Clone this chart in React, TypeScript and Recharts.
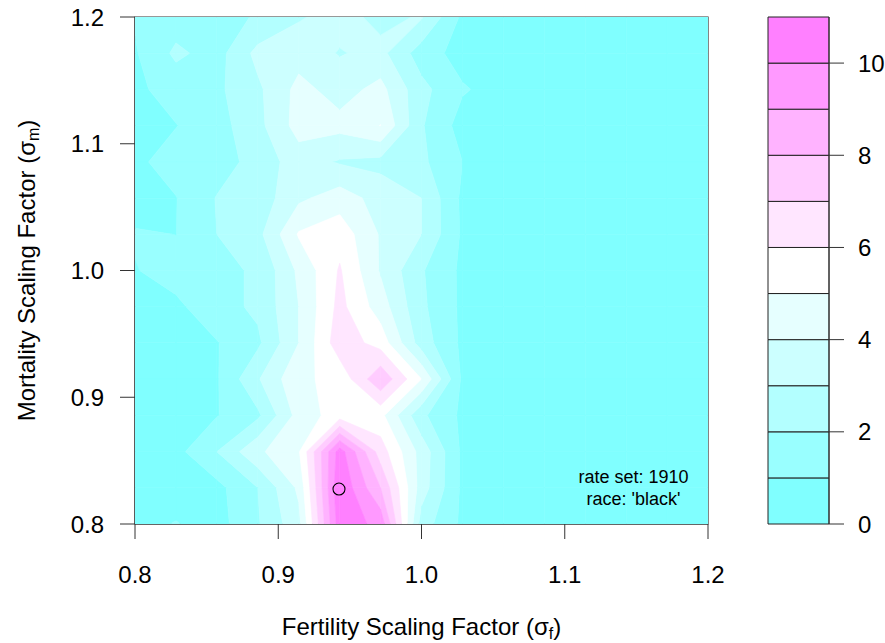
import React from 'react';
import { ScatterChart, Scatter, XAxis, YAxis, ReferenceArea, BarChart, Bar } from 'recharts';

const FONT = '"Liberation Sans", Arial, Helvetica, sans-serif';

// grid of the run: fertility factor (columns) and mortality factor (rows, top to bottom)
const fertility = [0.8, 0.8286, 0.8571, 0.8857, 0.9143, 0.9429, 0.9714, 1.0, 1.0286, 1.0571, 1.0857, 1.1143, 1.1429, 1.1714, 1.2];
const mortality = [1.2, 1.1714, 1.1429, 1.1143, 1.0857, 1.0571, 1.0286, 1.0, 0.9714, 0.9429, 0.9143, 0.8857, 0.8571, 0.8286, 0.8];

// values, one row per mortality value (1.2 at the top)
const zRows = [
  [1.1, 1.5, 1.8, 2.05, 2.9, 3.4, 2.7, 3.1, 0.8, 0.6, 0.5, 0.5, 0.4, 0.4, 0.4],
  [0.9, 2.2, 1.6, 3.3, 3.6, 2.93, 3.3, 1.5, 0.6, 0.5, 0.5, 0.4, 0.4, 0.4, 0.4],
  [0.8, 1.4, 1.8, 2.8, 4.3, 3.6, 4.3, 2.3, 1.1, 0.6, 0.5, 0.5, 0.4, 0.4, 0.4],
  [0.5, 0.97, 1.6, 2.7, 4.4, 4.3, 5.02, 2.1, 0.6, 0.5, 0.5, 0.4, 0.4, 0.4, 0.4],
  [0.8, 1.4, 1.5, 2.4, 3.5, 2.9, 2.7, 2.2, 1.0, 0.6, 0.5, 0.4, 0.4, 0.4, 0.4],
  [0.5, 0.97, 2.05, 2.4, 3.8, 4.5, 3.6, 3.0, 0.8, 0.5, 0.5, 0.4, 0.4, 0.4, 0.4],
  [1.1, 0.99, 2.0, 2.7, 5.1, 5.6, 3.9, 3.0, 0.85, 0.5, 0.5, 0.4, 0.4, 0.4, 0.4],
  [0.95, 1.4, 1.8, 2.1, 4.2, 6.1, 3.9, 2.1, 0.8, 0.5, 0.4, 0.4, 0.4, 0.4, 0.4],
  [0.5, 0.8, 1.6, 2.2, 4.0, 6.3, 4.5, 2.2, 0.8, 0.5, 0.4, 0.4, 0.4, 0.4, 0.4],
  [0.4, 0.6, 0.95, 1.8, 4.0, 6.6, 5.6, 2.5, 0.8, 0.5, 0.4, 0.4, 0.4, 0.4, 0.4],
  [0.4, 0.5, 0.9, 2.9, 4.8, 5.3, 7.8, 5.0, 0.8, 0.5, 0.4, 0.4, 0.4, 0.4, 0.4],
  [0.5, 0.5, 0.95, 1.8, 4.4, 5.5, 5.3, 2.2, 0.8, 0.5, 0.4, 0.4, 0.4, 0.4, 0.4],
  [0.5, 0.7, 2.0, 3.8, 4.9, 10.5, 6.5, 3.6, 0.8, 0.5, 0.4, 0.4, 0.4, 0.4, 0.4],
  [0.5, 0.5, 0.7, 2.0, 4.2, 10.9, 8.0, 3.5, 0.8, 0.5, 0.4, 0.4, 0.4, 0.4, 0.4],
  [0.7, 1.05, 0.6, 1.9, 3.7, 10.6, 9.7, 2.5, 0.8, 0.5, 0.4, 0.4, 0.4, 0.4, 0.4],
];

const levels = [0, 1, 2, 3, 4, 5, 6, 7, 8, 9, 10, 11];
const bandColors = ['#80FFFF', '#99FFFF', '#B3FFFF', '#CCFFFF', '#E6FFFF', '#FFFFFF', '#FFE6FF', '#FFCCFF', '#FFB3FF', '#FF99FF', '#FF80FF'];

const xTicks = [0.8, 0.9, 1.0, 1.1, 1.2];
const yTicks = [0.8, 0.9, 1.0, 1.1, 1.2];
const keyTicks = [0, 2, 4, 6, 8, 10];

const optimum = [{ x: 0.9424, y: 0.8276 }];
const notes = [
  { x: 1.148, y: 0.837, text: 'rate set: 1910' },
  { x: 1.148, y: 0.8195, text: "race: 'black'" },
];

type Pt = { x: number; y: number };
type Corner = Pt & { z: number };

// part of one grid cell lying inside [lo, hi), walking the cell edges
function cellBand(c: Corner[], lo: number, hi: number): Pt[] {
  const out: Pt[] = [];
  for (let k = 0; k < 4; k++) {
    const p = c[k];
    const q = c[(k + 1) % 4];
    if (p.z >= lo && p.z < hi) out.push({ x: p.x, y: p.y });
    const cross: { t: number; x: number; y: number }[] = [];
    [lo, hi].forEach((L) => {
      if ((p.z < L) !== (q.z < L)) {
        const t = (L - p.z) / (q.z - p.z);
        cross.push({ t, x: p.x + t * (q.x - p.x), y: p.y + t * (q.y - p.y) });
      }
    });
    cross.sort((a, b) => a.t - b.t);
    cross.forEach((m) => out.push({ x: m.x, y: m.y }));
  }
  return out;
}

const polys: { n: number; color: string }[] = [];
const contourPoints: Pt[] = [];
for (let r = 0; r < mortality.length - 1; r++) {
  for (let i = 0; i < fertility.length - 1; i++) {
    const cell: Corner[] = [
      { x: fertility[i], y: mortality[r + 1], z: zRows[r + 1][i] },
      { x: fertility[i + 1], y: mortality[r + 1], z: zRows[r + 1][i + 1] },
      { x: fertility[i + 1], y: mortality[r], z: zRows[r][i + 1] },
      { x: fertility[i], y: mortality[r], z: zRows[r][i] },
    ];
    for (let b = 0; b < bandColors.length; b++) {
      const pts = cellBand(cell, levels[b], levels[b + 1]);
      if (pts.length >= 3) {
        polys.push({ n: pts.length, color: bandColors[b] });
        pts.forEach((p) => contourPoints.push(p));
      }
    }
  }
}

const drawBands = (props: any) => {
  const pts = props.points || [];
  let k = 0;
  return (
    <g>
      {polys.map((poly, i) => {
        const seg = pts.slice(k, k + poly.n);
        k += poly.n;
        const d = 'M' + seg.map((p: Pt) => `${p.x},${p.y}`).join('L') + 'Z';
        return <path key={i} d={d} fill={poly.color} stroke={poly.color} strokeWidth={0.6} />;
      })}
    </g>
  );
};

const NoDot = () => <g />;

const OptimumMark = (props: any) => (
  <circle cx={props.cx} cy={props.cy} r={6} fill="none" stroke="#000" strokeWidth={1.1} />
);

const NoteText = (props: any) => (
  <text x={props.cx} y={props.cy} textAnchor="middle" dominantBaseline="central" fontSize={18} fontFamily={FONT} fill="#000">
    {props.payload.text}
  </text>
);

const XTitle = (props: any) => {
  const vb = props.viewBox || { x: 135, y: 524, width: 573 };
  return (
    <text x={vb.x + vb.width / 2} y={vb.y + 102} textAnchor="middle" dominantBaseline="central" fontSize={24} fontFamily={FONT} fill="#000">
      <tspan>Fertility Scaling Factor (σ</tspan>
      <tspan fontSize={16} dy={7}>f</tspan>
      <tspan dy={-7}>)</tspan>
    </text>
  );
};

const YTitle = (props: any) => {
  const vb = props.viewBox || { x: 0, y: 17, height: 507 };
  const cx = 26;
  const cy = vb.y + vb.height / 2;
  return (
    <text x={cx} y={cy} transform={`rotate(-90, ${cx}, ${cy})`} textAnchor="middle" dominantBaseline="central" fontSize={24} fontFamily={FONT} fill="#000">
      <tspan>Mortality Scaling Factor (σ</tspan>
      <tspan fontSize={16} dy={7}>m</tspan>
      <tspan dy={-7}>)</tspan>
    </text>
  );
};

const keyRow: Record<string, number | string> = { k: 'key' };
bandColors.forEach((_, i) => {
  keyRow['b' + i] = levels[i + 1] - levels[i];
});

const tickStyle = { fontSize: 24, fill: '#000', fontFamily: FONT };

export default function App() {
  return (
    <div style={{ position: 'absolute', left: 0, top: 0, width: 885, height: 643, background: '#fff', fontFamily: FONT }}>
      <div style={{ position: 'absolute', left: 0, top: 0 }}>
        <ScatterChart width={885} height={643} margin={{ top: 17, right: 177, bottom: 59, left: 0 }}>
          <XAxis
            type="number"
            dataKey="x"
            domain={[0.8, 1.2]}
            ticks={xTicks}
            allowDataOverflow
            tickFormatter={(v: number) => v.toFixed(1)}
            tickSize={15}
            tickMargin={27}
            tick={tickStyle}
            stroke="#333"
            height={60}
            label={<XTitle />}
          />
          <YAxis
            type="number"
            dataKey="y"
            domain={[0.8, 1.2]}
            ticks={yTicks}
            allowDataOverflow
            tickFormatter={(v: number) => v.toFixed(1)}
            tickSize={15}
            tickMargin={16}
            tick={tickStyle}
            stroke="#333"
            width={135}
            label={<YTitle />}
          />
          <Scatter
            data={contourPoints}
            shape={NoDot}
            line={drawBands}
            lineJointType="joint"
            isAnimationActive={false}
          />
          <ReferenceArea x1={0.8} x2={1.2} y1={0.8} y2={1.2} fill="none" fillOpacity={0} stroke="#333" strokeWidth={1.2} />
          <Scatter data={optimum} shape={OptimumMark} isAnimationActive={false} />
          <Scatter data={notes} shape={NoteText} isAnimationActive={false} />
        </ScatterChart>
      </div>
      <div style={{ position: 'absolute', left: 0, top: 0 }}>
        <BarChart width={885} height={643} data={[keyRow]} margin={{ top: 17, right: 0, bottom: 119, left: 768 }} barCategoryGap={0} barGap={0}>
          <XAxis dataKey="k" hide />
          <YAxis
            orientation="right"
            type="number"
            domain={[0, 11]}
            ticks={keyTicks}
            interval={0}
            tickSize={15}
            tickMargin={14}
            tick={{ ...tickStyle, textAnchor: 'start' }}
            stroke="#333"
            width={56}
          />
          {bandColors.map((c, i) => (
            <Bar key={c} dataKey={'b' + i} stackId="key" fill={c} stroke="#222" strokeWidth={1} isAnimationActive={false} />
          ))}
        </BarChart>
      </div>
    </div>
  );
}
